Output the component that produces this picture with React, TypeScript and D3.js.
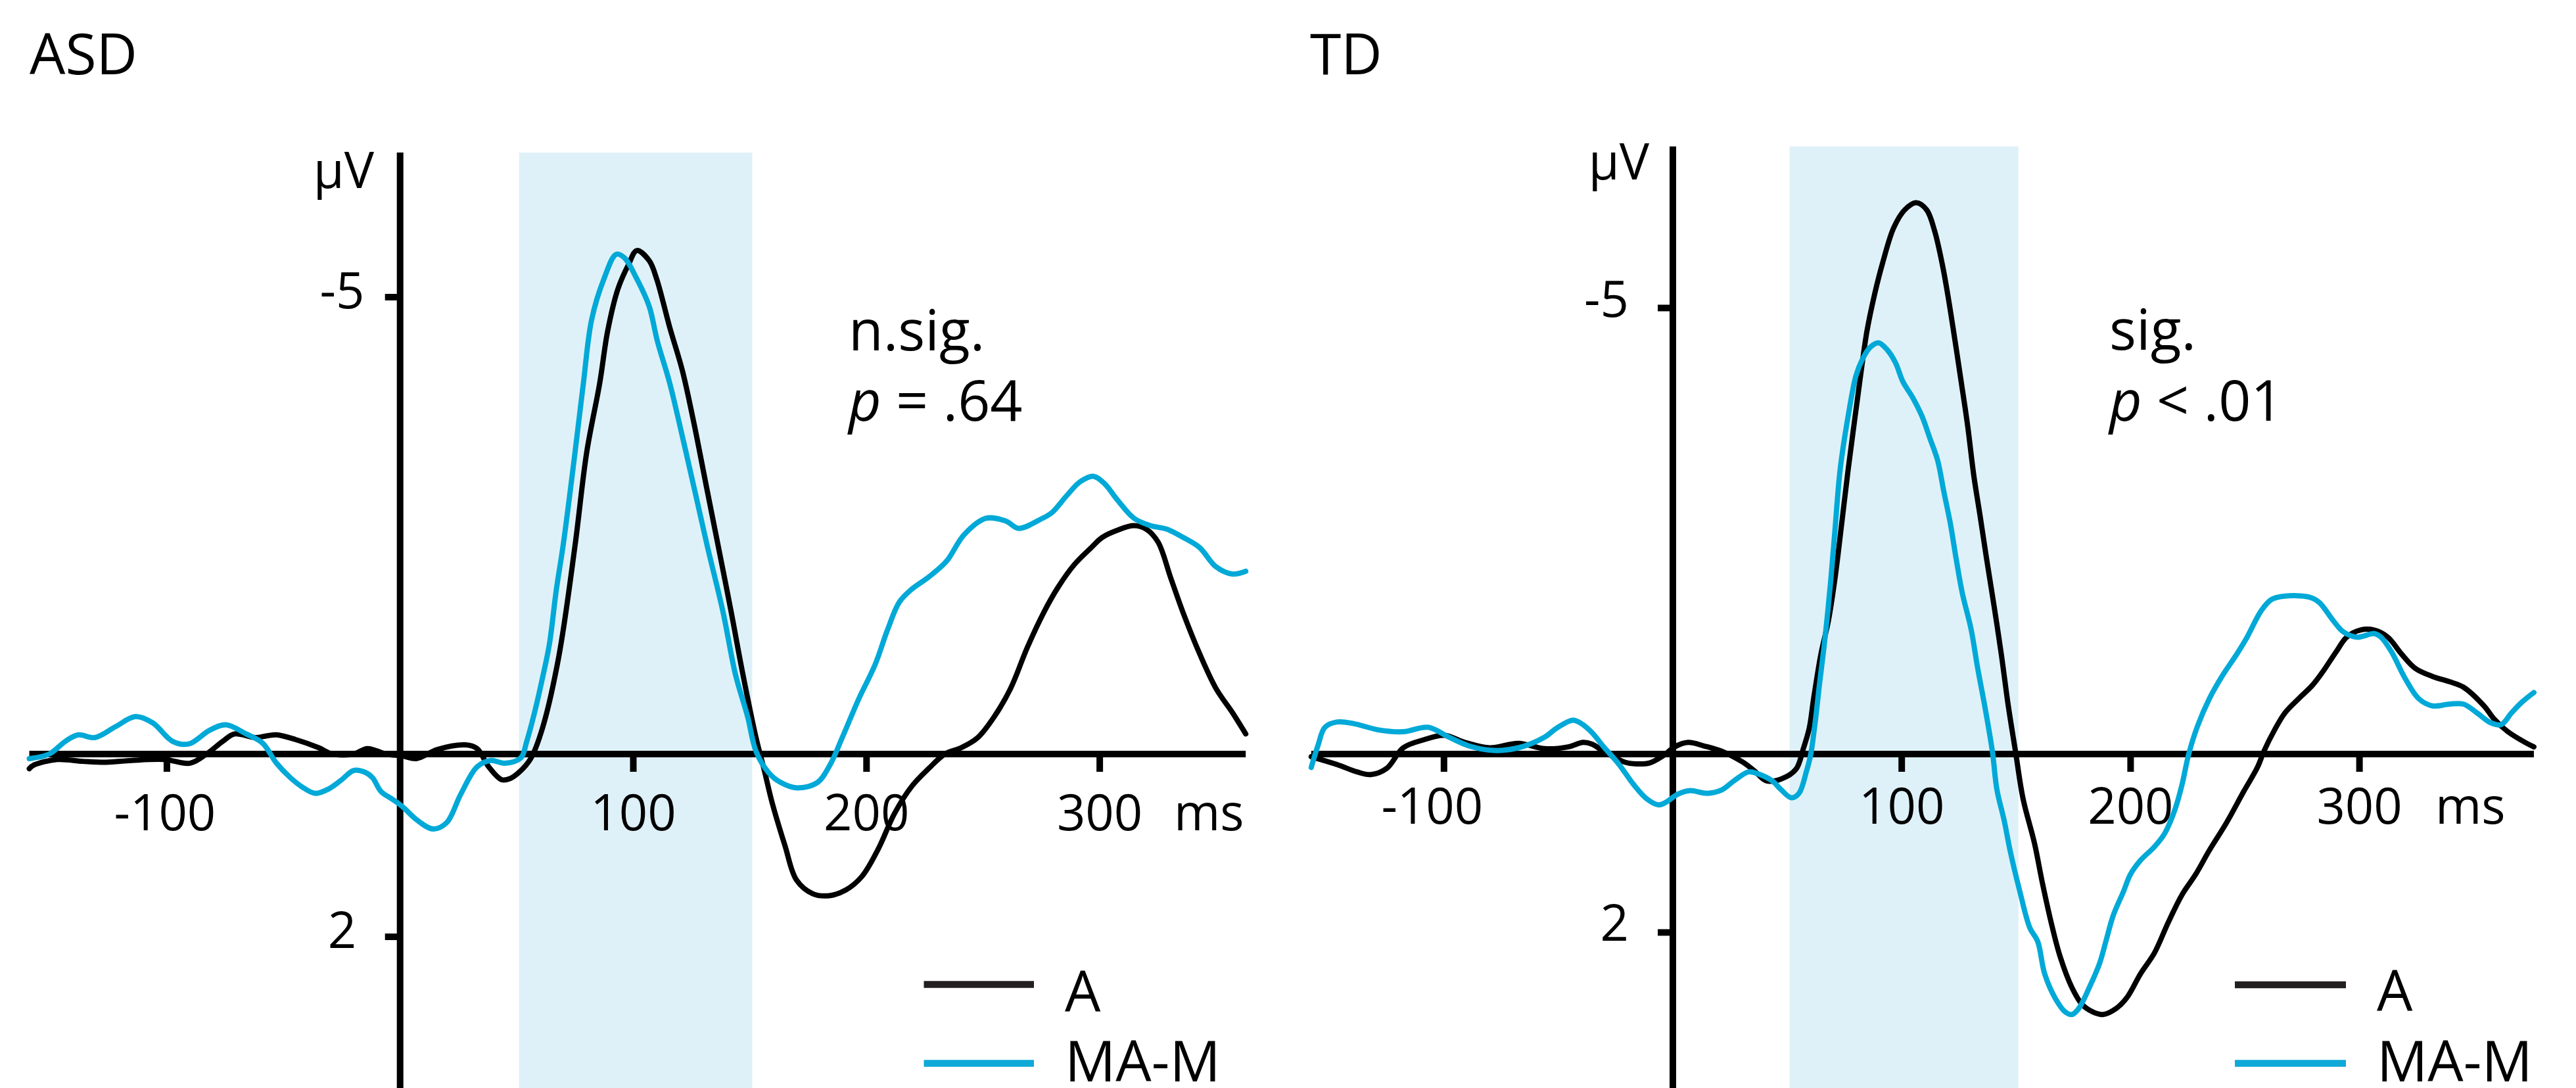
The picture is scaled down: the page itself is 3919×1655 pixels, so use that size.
import React from "react";
import * as d3 from "d3";

// ---------- DATA (ms, µV; negative is plotted upward) ----------
const asdA: [number, number][] = [
  [-159, 0.16], [-157, 0.12], [-147, 0.06], [-136, 0.08], [-126, 0.09], [-115, 0.07], [-101, 0.06],
  [-90, 0.1], [-83, 0.0], [-76, -0.14], [-71, -0.22], [-62, -0.18], [-57, -0.2], [-53, -0.21],
  [-45, -0.16], [-35, -0.07], [-29, 0.0], [-20, 0.0], [-14, -0.06], [-6, 0.0], [1, 0.02], [7, 0.05],
  [16, -0.05], [28, -0.1], [33, -0.06], [38, 0.14], [43.5, 0.28], [47, 0.27], [51, 0.2], [56, 0.05],
  [61, -0.28], [68, -1.06], [75, -2.28], [80, -3.3], [85.6, -4.06], [89, -4.63], [93.4, -5.09],
  [98, -5.36], [101.5, -5.51], [106.8, -5.4], [110, -5.2], [115.6, -4.67], [121, -4.2], [126, -3.62],
  [131.4, -2.92], [137, -2.2], [142, -1.55], [147, -0.87], [152.6, -0.18], [156, 0.16], [159.6, 0.54],
  [165, 1.0], [170, 1.38], [177, 1.53], [184, 1.55], [191, 1.49], [198, 1.34], [205, 1.04], [212, 0.65],
  [219.5, 0.35], [226.6, 0.16], [233.6, 0.0], [240.7, -0.07], [247.7, -0.18], [254.8, -0.41],
  [261.8, -0.72], [269, -1.17], [276, -1.55], [282, -1.82], [289, -2.07], [296.4, -2.26], [301, -2.37],
  [307.6, -2.45], [314.7, -2.5], [320, -2.46], [325, -2.32], [330.4, -1.93], [335.7, -1.55],
  [342.8, -1.1], [349.8, -0.72], [357, -0.45], [362.6, -0.22],
];

const asdMAM: [number, number][] = [
  [-159, 0.05], [-150.5, 0.0], [-143.5, -0.14], [-138, -0.21], [-131, -0.18], [-122, -0.3],
  [-113.5, -0.41], [-106, -0.34], [-97.6, -0.14], [-90.6, -0.11], [-81.7, -0.26], [-74.7, -0.32],
  [-66, -0.22], [-59, -0.12], [-53, 0.1], [-47, 0.26], [-42, 0.36], [-36.4, 0.43], [-30.5, 0.38],
  [-25, 0.28], [-20, 0.18], [-15, 0.2], [-11.8, 0.26], [-8.2, 0.41], [-3, 0.5], [1.2, 0.58], [7.1, 0.72],
  [14.2, 0.82], [20, 0.75], [26, 0.44], [33, 0.14], [38.9, 0.07], [44.8, 0.1], [51.8, 0.04],
  [54.2, -0.13], [57.7, -0.46], [61.2, -0.85], [64, -1.2], [67, -1.8], [70, -2.3], [75, -3.3],
  [78.6, -4.06], [82.1, -4.75], [87.4, -5.2], [92.7, -5.47], [96.2, -5.43], [101.5, -5.2],
  [106.8, -4.9], [110.3, -4.52], [115.6, -4.06], [120.9, -3.49], [126, -2.92], [131.5, -2.3],
  [138.5, -1.55], [143.8, -0.87], [149, -0.41], [152.6, -0.03], [157.9, 0.2], [163.1, 0.31],
  [170.2, 0.37], [179, 0.31], [184.3, 0.12], [189.6, -0.18], [196.6, -0.6], [203.7, -0.98],
  [209, -1.36], [214, -1.66], [219.2, -1.8], [226.8, -1.94], [234.3, -2.11], [241.8, -2.4],
  [251.2, -2.58], [259.7, -2.55], [265.3, -2.47], [274.7, -2.57], [279.4, -2.64], [285.9, -2.83],
  [291.6, -2.98], [297.2, -3.04], [302, -2.96], [307.6, -2.78], [314.7, -2.58], [321.7, -2.5],
  [328.8, -2.46], [335.8, -2.37], [342.8, -2.26], [349.8, -2.05], [356.9, -1.97], [362.6, -2.0],
];

const tdA: [number, number][] = [
  [-158, 0.03], [-146.5, 0.12], [-138, 0.2], [-132, 0.23], [-125, 0.16], [-117.8, -0.07],
  [-108.8, -0.16], [-99.8, -0.21], [-90.8, -0.13], [-80, -0.07], [-67.5, -0.12], [-56, -0.06],
  [-45.7, -0.08], [-39.2, -0.13], [-35.3, -0.11], [-30.2, -0.03], [-21.1, 0.09], [-16, 0.11],
  [-10.2, 0.1], [-4.3, 0.02], [0.8, -0.08], [6.6, -0.13], [13.7, -0.09], [21.5, -0.03], [30.5, 0.09],
  [35.7, 0.19], [40.8, 0.3], [47.3, 0.28], [53.8, 0.17], [57, -0.06], [59.6, -0.29], [61.5, -0.62],
  [64.7, -1.12], [68, -1.5], [71, -2.0], [73.8, -2.59], [76.6, -3.19], [79.3, -3.72], [82, -4.24],
  [84.8, -4.74], [88.2, -5.16], [91.7, -5.51], [96.5, -5.9], [101.3, -6.1], [106.4, -6.18],
  [110.9, -6.1], [114.3, -5.87], [117.8, -5.48], [120.5, -5.09], [123.3, -4.63], [126, -4.17],
  [128.8, -3.68], [131.5, -3.12], [134.3, -2.66], [137, -2.2], [140.4, -1.65], [143.5, -1.12],
  [146.5, -0.55], [149.7, -0.03], [153, 0.5], [158, 1.0], [161.5, 1.45], [165.4, 1.9], [169.2, 2.27],
  [174.4, 2.62], [178.9, 2.81], [183.4, 2.89], [187.9, 2.92], [193.8, 2.85], [198.4, 2.73],
  [204.4, 2.46], [210.4, 2.23], [216.4, 1.89], [222.4, 1.58], [228.4, 1.35], [234.4, 1.08],
  [241.9, 0.77], [249.4, 0.42], [255.4, 0.15], [258.4, -0.04], [262.9, -0.27], [267.4, -0.46],
  [273.4, -0.62], [279.4, -0.77], [283.9, -0.92], [289.9, -1.15], [294.4, -1.31], [300.4, -1.39],
  [306.4, -1.39], [312.4, -1.31], [318.4, -1.12], [324.4, -0.96], [331.9, -0.87], [339.4, -0.81],
  [345.4, -0.75], [354.4, -0.54], [358.9, -0.39], [364.9, -0.25], [372.4, -0.13], [376.2, -0.08],
];

const tdMAM: [number, number][] = [
  [-158, 0.15], [-155, -0.1], [-152, -0.3], [-146.5, -0.36], [-139.3, -0.34], [-128.5, -0.27],
  [-117.8, -0.25], [-107, -0.3], [-97.9, -0.19], [-89, -0.09], [-78.3, -0.04], [-67.5, -0.07],
  [-56, -0.19], [-50.8, -0.29], [-43.7, -0.38], [-39.9, -0.34], [-35.3, -0.24], [-30.2, -0.08],
  [-23.7, 0.11], [-17.2, 0.34], [-11.5, 0.5], [-6.3, 0.57], [-3, 0.54], [2.1, 0.45], [7.3, 0.41],
  [15, 0.44], [21.5, 0.4], [26.7, 0.3], [33.1, 0.2], [37, 0.22], [43.4, 0.3], [47.3, 0.4],
  [51.8, 0.49], [55.1, 0.44], [58.3, 0.2], [60.2, 0.01], [62.2, -0.36], [64.1, -0.79], [66, -1.19],
  [67.5, -1.55], [69, -1.95], [70.8, -2.5], [73.1, -3.19], [76.6, -3.79], [80, -4.24],
  [82.7, -4.42], [86.2, -4.56], [89.9, -4.61], [93.7, -4.53], [97.2, -4.39], [100.6, -4.17],
  [104.7, -4.0], [108.8, -3.79], [112.3, -3.54], [115.7, -3.29], [118.4, -2.94], [121.2, -2.59],
  [123.9, -2.17], [126.5, -1.8], [130.3, -1.4], [133.2, -0.96], [136.4, -0.52], [139.6, -0.03],
  [141.6, 0.4], [144.8, 0.75], [147.5, 1.1], [151.5, 1.53], [156, 1.95], [159.4, 2.1], [162.4, 2.46],
  [166.9, 2.73], [171.4, 2.89], [174.4, 2.92], [177.4, 2.85], [181.9, 2.62], [186.4, 2.35],
  [189.4, 2.08], [192.4, 1.81], [196.9, 1.54], [199.9, 1.35], [204.4, 1.19], [210.4, 1.04],
  [214.9, 0.89], [219.4, 0.62], [222.4, 0.35], [225.4, 0.0], [229.2, -0.31], [234.4, -0.62],
  [240.4, -0.89], [246.4, -1.12], [250.9, -1.31], [256.9, -1.6], [261.4, -1.73], [267.4, -1.77],
  [277.9, -1.76], [282.4, -1.7], [288.4, -1.5], [292.9, -1.37], [298.9, -1.31], [306.4, -1.35],
  [309.4, -1.31], [313.9, -1.15], [319.9, -0.85], [325.9, -0.62], [331.9, -0.54], [339.4, -0.56],
  [345.4, -0.56], [351.4, -0.46], [357.4, -0.35], [361.9, -0.33], [366.4, -0.46], [370.9, -0.58],
  [376.2, -0.69],
];

const panelTitles = ["ASD", "TD"];
const sigLabels = ["n.sig.", "sig."];
const pLabels = ["= .64", "< .01"];
const legendLabels = ["A", "MA-M"];
const xTicks = [-100, 100, 200, 300];
const yTicks = [-5, 2];
const shadeWindow = [51, 151];
const timeRanges: [number, number][] = [[-159, 362.6], [-158, 376.2]];

// ---------- LAYOUT ----------
const FONT = "'Open Sans', 'DejaVu Sans', sans-serif";
const BLUE = "#00a9d7";
const SHADE = "#dff1f8";

const layouts = [
  {
    x0: 608.7, pxPerMs: 3.548, y0: 1147, pxPerUv: 139, axisTop: 232,
    titleX: 45, muEnd: 569, muBase: 286,
    yLabAnchor: "middle", yLabX: 520.5, yLabDy: 17,
    xLabBase: 1263, negShift: -3, msX: 1786,
    annX: 1291, annY1: 533, annY2: 640,
    legX1: 1405.5, legX2: 1573, legY1: 1497.5, legY2: 1617.5, legTx: 1620, legB1: 1539, legB2: 1645,
  },
  {
    x0: 2545, pxPerMs: 3.482, y0: 1147, pxPerUv: 135.7, axisTop: 222.7,
    titleX: 1993, muEnd: 2509, muBase: 273,
    yLabAnchor: "end", yLabX: 2478, yLabDy: 13,
    xLabBase: 1252.5, negShift: -18, msX: 3705,
    annX: 3209, annY1: 532, annY2: 640,
    legX1: 3400, legX2: 3569, legY1: 1498, legY2: 1617.5, legTx: 3616, legB1: 1538, legB2: 1645,
  },
];

const seriesByPanel = [
  [asdA, asdMAM],
  [tdA, tdMAM],
];

function Panel({ i }: { i: number }) {
  const L = layouts[i];
  const [t0, t1] = timeRanges[i];
  const x = d3.scaleLinear().domain([0, 100]).range([L.x0, L.x0 + 100 * L.pxPerMs]);
  const y = d3.scaleLinear().domain([0, -5]).range([L.y0, L.y0 - 5 * L.pxPerUv]);
  const line = d3
    .line<[number, number]>()
    .x((d) => x(d[0]))
    .y((d) => y(d[1]))
    .curve(d3.curveCatmullRom.alpha(0.5));
  const [sA, sM] = seriesByPanel[i];
  const bottom = 1655;
  return (
    <g>
      <rect
        x={x(shadeWindow[0])}
        y={L.axisTop}
        width={x(shadeWindow[1]) - x(shadeWindow[0])}
        height={bottom - L.axisTop}
        fill={SHADE}
      />
      <text x={L.titleX} y={113} fontSize={86} fontFamily={FONT} fill="#000">
        {panelTitles[i]}
      </text>
      {/* y axis */}
      <line x1={x(0)} x2={x(0)} y1={L.axisTop} y2={bottom} stroke="#000" strokeWidth={10} />
      {yTicks.map((t) => (
        <g key={t}>
          <line x1={x(0) - 23} x2={x(0)} y1={y(t)} y2={y(t)} stroke="#000" strokeWidth={10} />
          <text
            x={L.yLabX}
            y={y(t) + L.yLabDy}
            textAnchor={L.yLabAnchor as any}
            fontSize={76}
            fontFamily={FONT}
            fill="#000"
          >
            {String(t)}
          </text>
        </g>
      ))}
      <text x={L.muEnd} y={L.muBase} textAnchor="end" fontSize={76} fontFamily={FONT} fill="#000">
        µV
      </text>
      {/* x axis */}
      <line x1={x(t0)} x2={x(t1)} y1={y(0)} y2={y(0)} stroke="#000" strokeWidth={10} />
      {xTicks.map((t) => (
        <g key={t}>
          <line x1={x(t)} x2={x(t)} y1={y(0)} y2={y(0) + 27} stroke="#000" strokeWidth={10} />
          <text
            x={x(t) + (t < 0 ? L.negShift : 0)}
            y={L.xLabBase}
            textAnchor="middle"
            fontSize={76}
            fontFamily={FONT}
            fill="#000"
          >
            {String(t)}
          </text>
        </g>
      ))}
      <text x={L.msX} y={L.xLabBase} fontSize={76} fontFamily={FONT} fill="#000">
        ms
      </text>
      {/* curves */}
      <path d={line(sA) || ""} fill="none" stroke="#000" strokeWidth={8} strokeLinejoin="round" strokeLinecap="round" />
      <path d={line(sM) || ""} fill="none" stroke={BLUE} strokeWidth={8} strokeLinejoin="round" strokeLinecap="round" />
      {/* annotation */}
      <text x={L.annX} y={L.annY1} fontSize={86} fontFamily={FONT} fill="#000">
        {sigLabels[i]}
      </text>
      <text x={L.annX} y={L.annY2} fontSize={86} fontFamily={FONT} fill="#000">
        <tspan fontStyle="italic">p</tspan>
        {" " + pLabels[i]}
      </text>
      {/* legend */}
      <line x1={L.legX1} x2={L.legX2} y1={L.legY1} y2={L.legY1} stroke="#231f20" strokeWidth={10.5} />
      <line x1={L.legX1} x2={L.legX2} y1={L.legY2} y2={L.legY2} stroke="#0fa9d8" strokeWidth={10.5} />
      <text x={L.legTx} y={L.legB1} fontSize={86} fontFamily={FONT} fill="#000">
        {legendLabels[0]}
      </text>
      <text x={L.legTx} y={L.legB2} fontSize={86} fontFamily={FONT} fill="#000">
        {legendLabels[1]}
      </text>
    </g>
  );
}

export default function App() {
  return (
    <svg
      width={3919}
      height={1655}
      viewBox="0 0 3919 1655"
      style={{ position: "absolute", left: 0, top: 0, display: "block", background: "#fff" }}
    >
      <rect x={0} y={0} width={3919} height={1655} fill="#fff" />
      <Panel i={0} />
      <Panel i={1} />
    </svg>
  );
}
